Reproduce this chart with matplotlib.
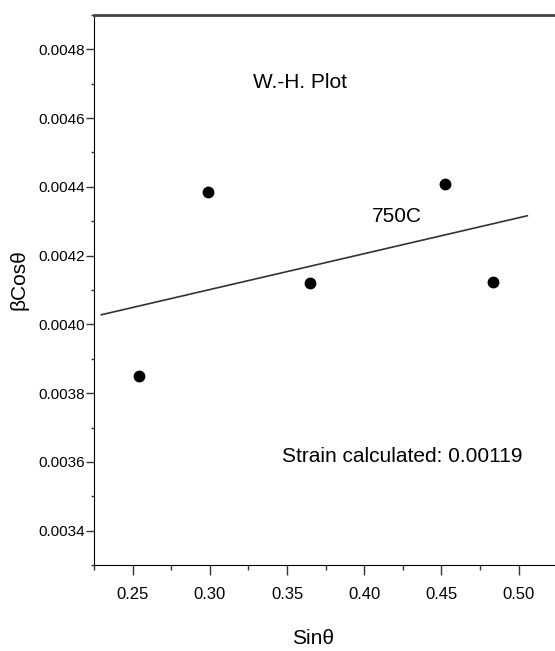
import numpy as np
import matplotlib
matplotlib.use("Agg")
import matplotlib.pyplot as plt
from matplotlib.ticker import MultipleLocator, FormatStrFormatter

plt.rcParams['font.family'] = ['Liberation Sans Narrow', 'Liberation Sans', 'DejaVu Sans']

sin_theta = [0.2539, 0.2987, 0.3647, 0.4520, 0.4834]
beta_cos = [0.003849, 0.004385, 0.004121, 0.004409, 0.004122]
# fitted line end points
fit_x = [0.2298, 0.5056]
fit_y = [0.004028, 0.004316]

title_txt = "W.-H. Plot"
temp_txt = "750C"
strain_txt = "Strain calculated: 0.00119"

fig = plt.figure(figsize=(5.55, 6.51), dpi=100)
ax = fig.add_axes([94/555, 86/651, 1 - 94/555, (565 - 15)/651])

ax.plot(fit_x, fit_y, color='#333333', lw=1.2)
ax.plot(sin_theta, beta_cos, 'o', color='black', ms=7.5, mec='black')

ax.set_xlim(0.225, 0.5235)
ax.set_ylim(0.0033, 0.0049)

ax.xaxis.set_major_locator(MultipleLocator(0.05))
ax.xaxis.set_minor_locator(MultipleLocator(0.025))
ax.yaxis.set_major_locator(MultipleLocator(0.0002))
ax.yaxis.set_minor_locator(MultipleLocator(0.0001))
ax.xaxis.set_major_formatter(FormatStrFormatter('%.2f'))
ax.yaxis.set_major_formatter(FormatStrFormatter('%.4f'))

ax.tick_params(axis='y', which='major', length=6, width=1, pad=0.5, labelsize=11, color='#333333')
ax.tick_params(axis='y', which='minor', length=2.5, width=1, color='#333333')
ax.tick_params(axis='x', which='major', length=7, width=1, pad=9, labelsize=12, color='#333333')
ax.tick_params(axis='x', which='minor', length=3.5, width=1, color='#333333')

ax.spines['right'].set_visible(False)
ax.spines['top'].set_color('#444444')
ax.spines['top'].set_linewidth(2)
ax.spines['left'].set_color('black')
ax.spines['bottom'].set_color('black')

fig.text(300/555, 1 - 83/651, title_txt, ha='center', va='center', fontsize=15)
fig.text(397/555, 1 - 216/651, temp_txt, ha='center', va='center', fontsize=15)
fig.text(402/555, 1 - 456/651, strain_txt, ha='center', va='center', fontsize=15)
fig.text(313/555, 1 - 639/651, "Sin\u03b8", ha='center', va='center', fontsize=15)
fig.text(19/555, 1 - 280/651, "\u03b2Cos\u03b8", ha='center', va='center', fontsize=15, rotation=90)

fig.savefig("out.png", dpi=100)
